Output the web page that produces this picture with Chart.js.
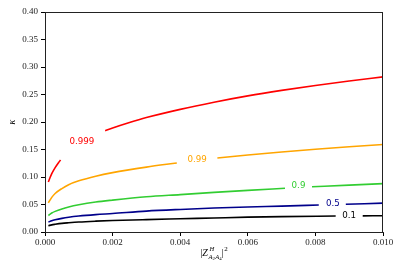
<!DOCTYPE html>
<html>
<head>
<meta charset="utf-8">
<script src="https://cdn.jsdelivr.net/npm/chart.js@4.4.0/dist/chart.umd.min.js"></script>
<style>
  html, body { margin: 0; padding: 0; background: #fff; }
  #wrap { width: 404px; height: 268px; }
</style>
</head>
<body>
<div id="wrap"><canvas id="chart"></canvas></div>
<script>
// tick labels
const xTicks = [0, 0.002, 0.004, 0.006, 0.008, 0.010];
const yTicks = [0, 0.05, 0.10, 0.15, 0.20, 0.25, 0.30, 0.35, 0.40];

// contour levels (null = gap left for the inline label)
const levels = ['0.1', '0.5', '0.9', '0.99', '0.999'];
const colors = ['#000000', '#00008b', '#32cd32', '#ffa500', '#ff0000'];

const blackX = [0.0001, 0.0002, 0.0003, 0.0005, 0.0007, 0.001, 0.0015, 0.002, 0.003, 0.004, 0.005, 0.006, 0.007, 0.0086, 0.009, 0.0094, 0.010];
const blackY = [0.0115, 0.013, 0.014, 0.0157, 0.0168, 0.0182, 0.0197, 0.0208, 0.0225, 0.024, 0.0255, 0.027, 0.028, 0.029, null, 0.0293, 0.0296];

const blueX = [0.0001, 0.0002, 0.0003, 0.0005, 0.0007, 0.001, 0.0015, 0.002, 0.003, 0.004, 0.005, 0.006, 0.007, 0.0081, 0.0085, 0.0089, 0.010];
const blueY = [0.018, 0.0205, 0.0222, 0.0248, 0.0268, 0.029, 0.0316, 0.0336, 0.038, 0.041, 0.0435, 0.0455, 0.047, 0.049, null, 0.0505, 0.0525];

const greenX = [0.0001, 0.0002, 0.0003, 0.0005, 0.0007, 0.001, 0.0015, 0.002, 0.003, 0.004, 0.005, 0.006, 0.0071, 0.0075, 0.0079, 0.009, 0.010];
const greenY = [0.030, 0.0345, 0.0375, 0.042, 0.0455, 0.0495, 0.0545, 0.058, 0.064, 0.068, 0.072, 0.0757, 0.0795, null, 0.0822, 0.0853, 0.088];

const orangeX = [0.0001, 0.0002, 0.0003, 0.0005, 0.0007, 0.001, 0.0015, 0.002, 0.003, 0.0039, 0.0045, 0.0051, 0.006, 0.007, 0.008, 0.009, 0.010];
const orangeY = [0.053, 0.063, 0.070, 0.079, 0.086, 0.093, 0.1015, 0.108, 0.118, 0.1255, null, 0.1345, 0.140, 0.1455, 0.1505, 0.155, 0.159];

const redX = [0.0001, 0.00015, 0.0002, 0.0003, 0.0004, 0.00046, 0.001, 0.00178, 0.002, 0.0025, 0.003, 0.004, 0.005, 0.006, 0.007, 0.008, 0.009, 0.010];
const redY = [0.091, 0.099, 0.106, 0.117, 0.126, 0.131, null, 0.184, 0.189, 0.199, 0.208, 0.223, 0.236, 0.2475, 0.2575, 0.2665, 0.2745, 0.282];

// where the inline labels sit (data coords)
const labelX = [0.0090, 0.00852, 0.0075, 0.0045, 0.00109];
const labelY = [0.0302, 0.0509, 0.0842, 0.1315, 0.165];

const seriesX = [blackX, blueX, greenX, orangeX, redX];
const seriesY = [blackY, blueY, greenY, orangeY, redY];

const serif = '"Liberation Serif", "DejaVu Serif", serif';

const datasets = levels.map((lv, i) => ({
    label: lv,
    data: seriesX[i].map((x, j) => ({ x: x, y: seriesY[i][j] })),
    borderColor: colors[i],
    borderWidth: 1.6,
    pointRadius: 0,
    fill: false,
    spanGaps: false,
    cubicInterpolationMode: 'monotone'
}));

const extras = {
    id: 'extras',
    afterDraw(chart) {
        const ctx = chart.ctx;
        const a = chart.chartArea;
        const xs = chart.scales.x, ys = chart.scales.y;
        ctx.save();

        // contour labels
        ctx.font = '8.7px "DejaVu Sans", sans-serif';
        ctx.textAlign = 'center';
        ctx.textBaseline = 'middle';
        levels.forEach((lv, i) => {
            ctx.fillStyle = colors[i];
            ctx.fillText(lv, xs.getPixelForValue(labelX[i]), ys.getPixelForValue(labelY[i]));
        });

        // frame
        ctx.strokeStyle = '#222';
        ctx.lineWidth = 1;
        ctx.strokeRect(Math.round(a.left) + 0.5, Math.round(a.top) + 0.5,
            Math.round(a.right - a.left) - 1, Math.round(a.bottom - a.top));

        // y title
        ctx.fillStyle = '#000';
        ctx.save();
        ctx.translate(12, (a.top + a.bottom) / 2);
        ctx.rotate(-Math.PI / 2);
        ctx.font = 'italic 10px ' + serif;
        ctx.textAlign = 'center';
        ctx.textBaseline = 'middle';
        ctx.fillText('\u03ba', 0, 0);
        ctx.restore();

        // x title |Z^H_{A2A4}|^2
        ctx.textAlign = 'left';
        ctx.textBaseline = 'alphabetic';
        const base = 256;
        const big = '10px ' + serif, bigI = 'italic 10px ' + serif;
        const sm = 'italic 6.5px ' + serif, tiny = '4.8px ' + serif;
        ctx.font = big; const wBar = ctx.measureText('|').width;
        ctx.font = bigI; const wZ = ctx.measureText('Z').width;
        ctx.font = sm; const wH = ctx.measureText('H').width; const wA = ctx.measureText('A').width;
        ctx.font = tiny; const wd = ctx.measureText('2').width;
        const wSub = 2 * (wA + wd) + 0.5;
        const wSup = Math.max(wH, wSub);
        ctx.font = '7px ' + serif; const w2 = ctx.measureText('2').width;
        const total = wBar + wZ + 0.5 + wSup + wBar + 0.5 + w2;
        let x = (a.left + a.right) / 2 - total / 2;
        ctx.font = big; ctx.fillText('|', x, base); x += wBar;
        ctx.font = bigI; ctx.fillText('Z', x, base); x += wZ + 0.5;
        ctx.font = sm; ctx.fillText('H', x + 1, base - 5);
        let sx = x;
        ctx.fillText('A', sx, base + 2.5); sx += wA;
        ctx.font = tiny; ctx.fillText('2', sx, base + 4); sx += wd + 0.5;
        ctx.font = sm; ctx.fillText('A', sx, base + 2.5); sx += wA;
        ctx.font = tiny; ctx.fillText('4', sx, base + 4);
        x += wSup;
        ctx.font = big; ctx.fillText('|', x, base); x += wBar + 0.5;
        ctx.font = '7px ' + serif; ctx.fillText('2', x, base - 5);

        ctx.restore();
    }
};

new Chart(document.getElementById('chart'), {
    type: 'line',
    data: { datasets: datasets },
    options: {
        responsive: true,
        maintainAspectRatio: false,
        animation: false,
        events: [],
        layout: { padding: { left: 0, top: 12, right: 21, bottom: 0 } },
        plugins: { legend: { display: false }, tooltip: { enabled: false } },
        scales: {
            x: {
                type: 'linear',
                min: 0,
                max: 0.010,
                afterBuildTicks: s => { s.ticks = xTicks.map(v => ({ value: v })); },
                afterFit: s => { s.height = 36; },
                grid: { drawOnChartArea: false, drawTicks: true, tickLength: 4, color: '#000' },
                border: { display: true, color: '#222' },
                ticks: {
                    padding: 1,
                    maxRotation: 0,
                    color: '#222',
                    font: { family: serif, size: 9 },
                    callback: v => v.toFixed(3)
                }
            },
            y: {
                type: 'linear',
                min: 0,
                max: 0.40,
                afterBuildTicks: s => { s.ticks = yTicks.map(v => ({ value: v })); },
                afterFit: s => { s.width = 45; },
                grid: { drawOnChartArea: false, drawTicks: true, tickLength: 4, color: '#000' },
                border: { display: true, color: '#222' },
                ticks: {
                    padding: 3,
                    color: '#222',
                    font: { family: serif, size: 9 },
                    callback: v => v.toFixed(2)
                }
            }
        }
    },
    plugins: [extras]
});
</script>
</body>
</html>
